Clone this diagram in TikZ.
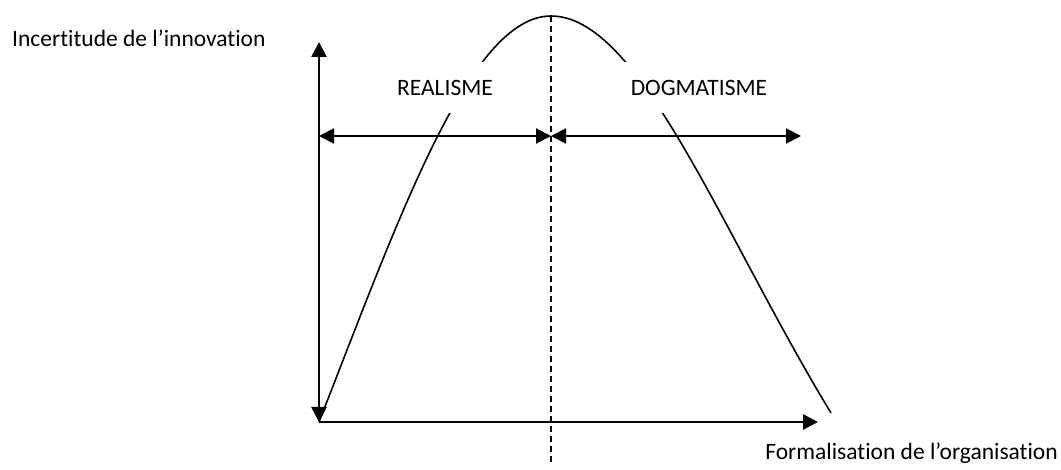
\documentclass[tikz,border=0pt]{standalone}
\usepackage{fontspec}
\setmainfont[Ligatures={NoCommon}]{Carlito}
\usetikzlibrary{arrows.meta}
\tikzset{
  tip/.tip={Triangle[length=15pt,width=15pt]},
  axisline/.style={line width=2.6pt},
  rangeline/.style={line width=2pt},
  curveline/.style={line width=1.6pt},
  dashline/.style={line width=1.4pt, dash pattern=on 6pt off 4pt},
  lbl/.style={font=\fontsize{23.5}{28}\selectfont, inner sep=0pt},
  zone/.style={font=\fontsize{23.5}{28}\selectfont, fill=white, minimum height=51pt, inner xsep=8pt, inner ysep=0pt}
}
\begin{document}
\begin{tikzpicture}[x=1pt,y=-1pt]
\useasboundingbox (0,0) rectangle (1061,470);
% key points
\coordinate (O) at (319,422);
\coordinate (Ytop) at (319,42);
\coordinate (Xend) at (818,422);
\coordinate (Lstart) at (319,136);
\coordinate (Mid) at (551,136);
\coordinate (Rend) at (801,136);
\coordinate (Peak) at (551,16);
\coordinate (Dbot) at (551,463);
\coordinate (Cend) at (831,413);
% curve
\draw[curveline] (O) .. controls (400,215) and (470,16) .. (Peak)
                     .. controls (640,16) and (720,230) .. (Cend);
% dashed separator
\draw[dashline] (Peak) -- (Dbot);
% axes
\draw[axisline, tip-tip] (O) -- (Ytop);
\draw[axisline, -tip] (O) -- (Xend);
% ranges
\draw[rangeline, tip-tip] (Lstart) -- (Mid);
\draw[rangeline, tip-tip] (Mid) -- (Rend);
% zone labels
\node[zone] (real) at (445,88) {REALISME};
\node[zone] (dogm) at (699,88) {DOGMATISME};
% axis labels
\node[lbl, anchor=base west] (ylab) at (12,47) {Incertitude de l’innovation};
\node[lbl, anchor=base east] (xlab) at (1058,460) {Formalisation de l’organisation};
\end{tikzpicture}
\end{document}
